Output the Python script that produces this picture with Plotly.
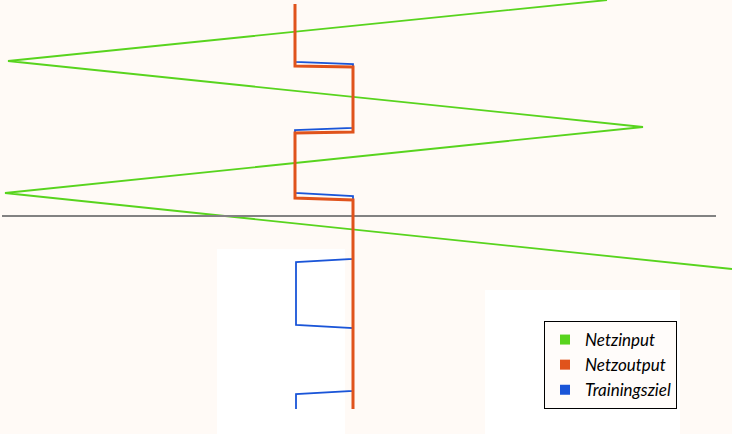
# Netzinput / Netzoutput / Trainingsziel - Zeit läuft nach unten
import plotly.graph_objects as go

# Zeit (vertikal) und Werte (horizontal)
input_zeit = [0, 61, 127, 193, 269]
input_wert = [607, 8, 643, 5, 732]

output_zeit = [4, 66, 67, 132, 133, 198, 200, 409]
output_wert = [295, 295, 353, 353, 295, 295, 353, 353]

ziel_zeit = [4, 62, 64, 128, 130, 193, 196, 259, 262, 325, 328, 391, 394, 409]
ziel_wert = [295, 295, 353, 353, 295, 295, 353, 353, 296, 296, 353, 353, 296, 296]

# horizontale Referenzlinie
ref_zeit = [216, 216]
ref_wert = [2, 716]

namen = ["Netzinput", "Netzoutput", "Trainingsziel"]
farben = ["#58d41e", "#e0531c", "#1a55d8"]

GRUEN, ORANGE, BLAU = farben
GRAU = "#828282"
HINTERGRUND = "#fffaf6"


def main():
    fig = go.Figure()

    fig.add_trace(go.Scatter(x=input_wert, y=input_zeit, mode="lines",
                             line=dict(color=GRUEN, width=1.8), showlegend=False))
    fig.add_trace(go.Scatter(x=ref_wert, y=ref_zeit, mode="lines",
                             line=dict(color=GRAU, width=2.2), showlegend=False))
    fig.add_trace(go.Scatter(x=ziel_wert, y=ziel_zeit, mode="lines",
                             line=dict(color=BLAU, width=1.8), showlegend=False))
    fig.add_trace(go.Scatter(x=output_wert, y=output_zeit, mode="lines",
                             line=dict(color=ORANGE, width=3), showlegend=False))

    # Legendeneinträge als kleine Quadrate
    for name, farbe in zip(namen, farben):
        fig.add_trace(go.Scatter(x=[None], y=[None], mode="markers", name=name,
                                 marker=dict(symbol="square", size=10, color=farbe)))

    # weisse Flecken im Hintergrund (Papier)
    for x0, y0, x1, y1 in [(217, 249, 345, 434), (485, 290, 680, 434)]:
        fig.add_shape(type="rect", xref="x", yref="y", x0=x0, y0=y0, x1=x1, y1=y1,
                      fillcolor="white", line=dict(width=0), layer="below")

    fig.update_layout(
        width=732, height=434,
        margin=dict(l=0, r=0, t=0, b=0),
        paper_bgcolor=HINTERGRUND,
        plot_bgcolor=HINTERGRUND,
        hovermode=False,
        xaxis=dict(range=[0, 732], visible=False, fixedrange=True),
        yaxis=dict(range=[434, 0], visible=False, fixedrange=True),
        legend=dict(
            x=544 / 732, y=1 - 321 / 434,
            xanchor="left", yanchor="top",
            bgcolor="#fffcfa",
            bordercolor="black", borderwidth=1,
            font=dict(family="Lato", size=17, color="black", style="italic"),
            itemwidth=30,
        ),
    )

    # Seitenrand des Browsers entfernen, damit die Grafik bei 0,0 beginnt
    fig.write_html("out.html", config={"displayModeBar": False},
                   post_script="document.body.style.margin='0';")


if __name__ == "__main__":
    main()
